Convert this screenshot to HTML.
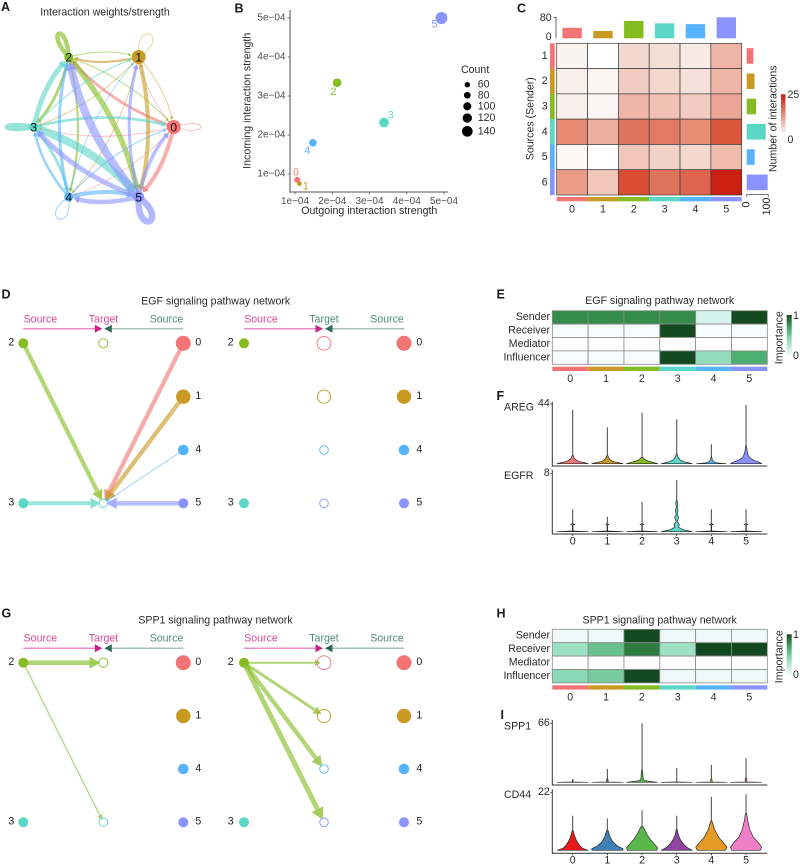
<!DOCTYPE html>
<html lang="en">
<head>
<meta charset="utf-8">
<title>Cell-cell communication figure</title>
<style>
html,body{margin:0;padding:0;background:#fff;}
svg{display:block;font-family:"Liberation Sans",Arial,sans-serif;filter:blur(0.3px);}
text{fill:#2a2a2a;font-size:10.6px;dominant-baseline:central;}
.plabel{font-size:12.5px;font-weight:bold;fill:#1a1a1a;dominant-baseline:auto;}
.mid{text-anchor:middle;}
.end{text-anchor:end;}
.mag{fill:#d8489e;}
.grn{fill:#4f8a78;}
</style>
</head>
<body>
<svg id="fig" width="800" height="865" viewBox="0 0 800 865">
<defs>
<linearGradient id="redGrad" x1="0" y1="1" x2="0" y2="0"><stop offset="0" stop-color="#ffffff"/><stop offset="0.5" stop-color="#e88d76"/><stop offset="1" stop-color="#cb1f0f"/></linearGradient>
<linearGradient id="grnGrad" x1="0" y1="1" x2="0" y2="0"><stop offset="0" stop-color="#f7fcfd"/><stop offset="0.4" stop-color="#92dcbc"/><stop offset="0.7" stop-color="#45a566"/><stop offset="1" stop-color="#14491f"/></linearGradient>
</defs>

<text class="plabel" x="1" y="11">A</text>
<text class="plabel" x="234.5" y="12.5">B</text>
<text class="plabel" x="517" y="12.5">C</text>
<text class="plabel" x="1.5" y="298.5">D</text>
<text class="plabel" x="496.5" y="298.5">E</text>
<text class="plabel" x="496.5" y="400">F</text>
<text class="plabel" x="1.5" y="617.5">G</text>
<text class="plabel" x="496.5" y="617.5">H</text>
<text class="plabel" x="500.5" y="719">I</text>

<text class="mid" x="105" y="12.3">Interaction weights/strength</text>

<text class="mid" x="369.3" y="211">Outgoing interaction strength</text>
<text class="mid" transform="translate(247.3 100.8) rotate(-90)">Incoming interaction strength</text>
<text x="461" y="70">Count</text>

<text class="mid" transform="translate(530.7 118.7) rotate(-90)">Sources (Sender)</text>
<text class="mid" transform="translate(773.3 118.7) rotate(-90)">Number of interactions</text>
<rect x="781" y="94.3" width="4.5" height="40.7" fill="url(#redGrad)"/>
<text x="787.5" y="95">25</text>
<text x="787.5" y="140">0</text>

<text class="mid" x="215.7" y="301.7">EGF signaling pathway network</text>
<text class="mid" x="215.5" y="620.7">SPP1 signaling pathway network</text>

<text class="mid mag" x="40.4" y="319.7">Source</text>
<text class="mid mag" x="103.5" y="319.7">Target</text>
<text class="mid grn" x="166.5" y="319.7">Source</text>
<text class="mid mag" x="261" y="319.7">Source</text>
<text class="mid grn" x="324" y="319.7">Target</text>
<text class="mid grn" x="387" y="319.7">Source</text>
<text class="mid mag" x="40.4" y="638.7">Source</text>
<text class="mid mag" x="103.5" y="638.7">Target</text>
<text class="mid grn" x="166.5" y="638.7">Source</text>
<text class="mid mag" x="261" y="638.7">Source</text>
<text class="mid grn" x="324" y="638.7">Target</text>
<text class="mid grn" x="387" y="638.7">Source</text>

<text class="mid" x="659.7" y="301">EGF signaling pathway network</text>
<text class="mid" transform="translate(779.3 337.7) rotate(-90)">Importance</text>
<rect x="786.7" y="315" width="5" height="41.7" fill="url(#grnGrad)"/>
<text x="793" y="316">1</text>
<text x="793" y="356">0</text>

<text class="mid" x="659.7" y="620.3">SPP1 signaling pathway network</text>
<text class="mid" transform="translate(779.3 656.7) rotate(-90)">Importance</text>
<rect x="786.7" y="634.3" width="5" height="41.4" fill="url(#grnGrad)"/>
<text x="793" y="635">1</text>
<text x="793" y="675">0</text>

<text x="504" y="407.3">AREG</text>
<text x="504" y="476">EGFR</text>
<text x="504" y="726.7">SPP1</text>
<text x="504" y="795">CD44</text>
</svg>

<script>
/* ---------- shared data ---------- */
const clusters = ['0','1','2','3','4','5'];
const palette = ['#f37474','#c99a22','#84bc22','#5cd6c6','#56b4ff','#8a93ff'];
const violinPaletteB = ['#e41a1c','#3f80b8','#5ab84a','#8e44a0','#e59a26','#f07fc8'];

/* Panel A: edge weights, row = sender, col = receiver */
const chordWeights = [
  [0.6,0.6,2.8,0.7,0.7,4.0],
  [0.8,0.6,2.2,0.8,0.8,4.0],
  [0.9,0.9,4.5,3.0,2.0,5.5],
  [2.8,1.1,5.0,4.8,3.0,8.0],
  [1.1,0.7,3.0,2.5,0.9,4.0],
  [3.5,3.0,8.0,5.0,4.5,6.5]
];
const chordNodeSizes = [7,7,4.5,4.5,4.5,5.5];

/* Panel B */
const outgoing = [1.06e-4,1.12e-4,2.13e-4,3.39e-4,1.48e-4,4.93e-4];
const incoming = [0.85e-4,0.75e-4,3.34e-4,2.32e-4,1.80e-4,5.00e-4];
const counts = [70,50,105,120,90,150];
const scatterTicks = [1e-4,2e-4,3e-4,4e-4,5e-4];
const scatterTickLabels = ['1e\u221204','2e\u221204','3e\u221204','4e\u221204','5e\u221204'];
const countLegend = [60,80,100,120,140];

/* Panel C */
const heatValues = [
  [1,0,4,3.5,2,7],
  [1.5,0.8,5,4,3,7],
  [1.5,0.8,7,6,5,9],
  [13,7.5,17,16,12.5,20],
  [0.6,0,5.5,4.5,4,6.5],
  [10.5,5.5,21,17,18.5,25]
];
const heatRowLabels = ['1','2','3','4','5','6'];
const topBarValues = [40,28,66,57,54,80];
const rightBarValues = [31,36,43,88,37,97];

/* Panels D and G: hierarchy plots */
const leftColumn = [2,null,null,3];
const rightColumn = [0,1,4,5];
const sourceSizes = [7.5,7.2,5,5,5.3,5];
const targetSizes = [7.3,7,5,4.7,4.7,4.7];
const egfSources = [2,3,0,1,4,5];
const egfTargets = [3,3,3,3,3,3];
const egfWeights = [4.3,4,4.3,4.3,0.9,4.3];
const egfMiddleA = [2,null,null,3];
const spp1SourcesA = [2,2];
const spp1TargetsA = [2,3];
const spp1WeightsA = [4.5,1.3];
const spp1SourcesB = [2,2,2,2];
const spp1TargetsB = [0,1,4,5];
const spp1WeightsB = [2,3,4.3,5];
const middleB = [0,1,4,5];

/* Panels E and H: null = no role */
const roleLabels = ['Sender','Receiver','Mediator','Influencer'];
const egfRoles = [
  [0.8,0.8,0.8,0.8,0.12,1],
  [0,0,0,1,0,0],
  [null,null,null,null,null,null],
  [0,0,0,1,0.4,0.65]
];
const spp1Roles = [
  [0.03,0.03,1,0.03,0.03,0.03],
  [0.35,0.55,0.85,0.35,1,1],
  [null,null,null,null,null,null],
  [0.42,0.5,1,0.03,0.03,0.03]
];

/* Panels F and I: violin tops, and density profiles as [expression, relative width] */
const aregMax = [39.6,26.8,37.6,32.7,14.3,43.4];
const aregProfiles = [
  [[0,1],[0.8,0.75],[1.5,0.45],[2.5,0.25],[4,0.1],[6,0.04]],
  [[0,1],[0.8,0.72],[1.5,0.42],[2.5,0.22],[4,0.1],[6,0.03]],
  [[0,1],[1,0.7],[2,0.38],[3,0.18],[4.5,0.06]],
  [[0,1],[0.8,0.7],[1.5,0.45],[3,0.2],[5,0.08],[7,0.03]],
  [[0,0.95],[0.5,0.4],[1.5,0.15],[3,0.05],[5,0.02]],
  [[0,1],[1,0.85],[2.5,0.5],[4,0.28],[6,0.15],[9,0.07],[13,0.03]]
];
const egfrMax = [3.1,2.07,4.1,7.1,3.1,3.1];
const egfrProfiles = [
  [[0,1],[0.1,0.02],[0.9,0.01],[1,0.13],[1.1,0.01]],
  [[0,1],[0.1,0.02],[0.9,0.01],[1,0.1],[1.1,0.01]],
  [[0,1],[0.1,0.02],[0.9,0.01],[1,0.13],[1.1,0.01]],
  [[0,1],[0.25,0.45],[0.6,0.12],[1,0.17],[1.4,0.04],[2,0.13],[2.35,0.03],[3,0.09],[3.35,0.03],[4,0.06],[4.3,0.01]],
  [[0,1],[0.1,0.02],[0.9,0.01],[1,0.13],[1.1,0.01]],
  [[0,1],[0.1,0.02],[0.9,0.01],[1,0.13],[1.1,0.01]]
];
const spp1Max = [3.4,15,66,16,19.4,27];
const spp1Profiles = [
  [[0,1],[0.4,0.02],[3,0.01]],
  [[0,1],[0.4,0.04],[2,0.05],[4,0.02]],
  [[0,1],[1,0.5],[2,0.15],[4,0.07],[10,0.05],[14,0.02]],
  [[0,1],[0.4,0.01]],
  [[0,1],[0.4,0.04],[2.5,0.05],[4,0.01]],
  [[0,1],[0.4,0.04],[3,0.06],[5,0.02]]
];
const cd44Max = [13.2,12.2,15.3,13.2,20.4,21.4];
const cd44Profiles = [
  [[0,1],[0.8,0.62],[2,0.42],[4,0.22],[6,0.1],[7.5,0.03]],
  [[0,1],[0.6,1],[1.5,0.68],[3,0.38],[5,0.18],[7.5,0.05]],
  [[0,0.95],[1,1],[2,0.85],[4,0.55],[6,0.32],[9,0.07]],
  [[0,1],[1,0.68],[2,0.48],[4,0.24],[6,0.1],[8,0.03]],
  [[0,0.9],[1.2,1],[3,0.75],[5,0.46],[8,0.2],[11,0.05]],
  [[0,0.92],[1.2,1],[3,0.78],[5,0.46],[8,0.24],[11,0.12],[14,0.04]]
];

/* ---------- helpers ---------- */
const svg = document.getElementById('fig');
const NS = 'http://www.w3.org/2000/svg';
function add(tag, attrs, name, content) {
  const e = document.createElementNS(NS, tag);
  for (const k in attrs) e.setAttribute(k, attrs[k]);
  
  
  if (content !== undefined) e.textContent = content;
  svg.appendChild(e);
  return e;
}
function arrowHead(tipX, tipY, ux, uy, len, hw, fill, opacity, name) {
  const bx = tipX - ux * len, by = tipY - uy * len;
  const pts = [[tipX, tipY], [bx - uy * hw, by + ux * hw], [bx + uy * hw, by - ux * hw]];
  add('polygon', {points: pts.map(p => p[0].toFixed(1) + ',' + p[1].toFixed(1)).join(' '), fill: fill, opacity: opacity}, name);
}
function lerpColor(a, b, t) {
  const p = s => [1, 3, 5].map(i => parseInt(s.substr(i, 2), 16));
  const A = p(a), B = p(b);
  return 'rgb(' + A.map((v, i) => Math.round(v + (B[i] - v) * t)).join(',') + ')';
}
function rampColor(stops, v) {
  for (let i = 1; i < stops.length; i++) {
    if (v <= stops[i][0]) return lerpColor(stops[i - 1][1], stops[i][1], (v - stops[i - 1][0]) / (stops[i][0] - stops[i - 1][0]));
  }
  return stops[stops.length - 1][1];
}

/* ---------- Panel A ---------- */
(function () {
  const cx = 103.7, cy = 127, rx = 70, ry = 80.8;
  const nodeX = i => cx + rx * Math.cos(i * Math.PI / 3);
  const nodeY = i => cy - ry * Math.sin(i * Math.PI / 3);
  const loopAngle = [0, -64, -113, 180, 115, 66];
  const loopSpread = [18, 32, 20, 10, 32, 28];
  const loopReach = [38, 40, 36, 36, 38, 40];
  const bend = 0.125;
  chordWeights.forEach((row, i) => row.forEach((w, j) => {
    const x1 = nodeX(i), y1 = nodeY(i), x2 = nodeX(j), y2 = nodeY(j);
    if (i === j) {
      const a = loopAngle[i] * Math.PI / 180, s = loopSpread[i] * Math.PI / 180, L = loopReach[i];
      const d = 'M' + x1 + ' ' + y1 + ' C' + (x1 + L * Math.cos(a - s)) + ' ' + (y1 + L * Math.sin(a - s)) + ' ' + (x1 + L * Math.cos(a + s)) + ' ' + (y1 + L * Math.sin(a + s)) + ' ' + x1 + ' ' + y1;
      add('path', {d: d, fill: 'none', stroke: palette[i], 'stroke-width': Math.max(w, 0.6), opacity: 0.65}, 'self-loop-' + i);
      return;
    }
    const dx = x2 - x1, dy = y2 - y1;
    const mx = (x1 + x2) / 2 + dy * bend, my = (y1 + y2) / 2 - dx * bend;
    const r = chordNodeSizes[j];
    let ux = x2 - mx, uy = y2 - my;
    const ul = Math.hypot(ux, uy); ux /= ul; uy /= ul;
    const len = 2.5 + w * 0.7, hw = 1.3 + w * 0.55;
    const tipX = x2 - ux * (r + 0.5), tipY = y2 - uy * (r + 0.5);
    const endX = tipX - ux * len * 0.8, endY = tipY - uy * len * 0.8;
    add('path', {d: 'M' + x1 + ' ' + y1 + ' Q' + mx + ' ' + my + ' ' + endX + ' ' + endY, fill: 'none', stroke: palette[i], 'stroke-width': w, opacity: 0.6}, 'edge-' + i + '-to-' + j);
    arrowHead(tipX, tipY, ux, uy, len, hw, palette[i], 0.8, 'edge-arrow-' + i + '-to-' + j);
  }));
  clusters.forEach((c, i) => {
    add('circle', {cx: nodeX(i), cy: nodeY(i), r: chordNodeSizes[i], fill: palette[i]}, 'node-' + c);
    add('text', {x: nodeX(i), y: nodeY(i) + 0.3, class: 'mid', style: 'font-size:12px;fill:#111'}, 'node-label-' + c, c);
  });
})();

/* ---------- Panel B ---------- */
(function () {
  const sx = v => 295 + (v - 1e-4) / 1e-4 * 37.25;
  const sy = v => 174 - (v - 1e-4) / 1e-4 * 39;
  const sr = c => 2.3 + (c - 50) * 0.037;
  add('line', {x1: 290, y1: 10, x2: 290, y2: 192.7, stroke: '#777', 'stroke-width': 1.3}, 'y-axis-line');
  add('line', {x1: 289.4, y1: 192, x2: 448, y2: 192, stroke: '#777', 'stroke-width': 1.3}, 'x-axis-line');
  scatterTicks.forEach((t, i) => {
    add('line', {x1: sx(t), y1: 192, x2: sx(t), y2: 194.5, stroke: '#555', 'stroke-width': 0.8}, 'x-tick');
    add('line', {x1: 287.5, y1: sy(t), x2: 290, y2: sy(t), stroke: '#555', 'stroke-width': 0.8}, 'y-tick');
    add('text', {x: sx(t), y: 201.7, class: 'mid', style: 'font-size:10px;fill:#4d4d4d'}, 'x-tick-label', scatterTickLabels[i]);
    add('text', {x: 285.5, y: sy(t), class: 'end', style: 'font-size:10px;fill:#4d4d4d'}, 'y-tick-label', scatterTickLabels[i]);
  });
  const labelOffset = [[-1.3, -7.3], [6.4, 2.7], [-3.6, 9.3], [6.7, -7], [-5.7, 8], [-7, 6.3]];
  clusters.forEach((c, i) => {
    add('circle', {cx: sx(outgoing[i]), cy: sy(incoming[i]), r: sr(counts[i]), fill: palette[i]}, 'point-' + c);
    add('text', {x: sx(outgoing[i]) + labelOffset[i][0], y: sy(incoming[i]) + labelOffset[i][1], class: 'mid', style: 'fill:' + palette[i]}, 'point-label-' + c, c);
  });
  const legendY = [84.7, 95.3, 106.3, 118, 131.3];
  countLegend.forEach((c, i) => {
    add('circle', {cx: 467.3, cy: legendY[i], r: 2.7 + i * 0.66, fill: '#000'}, 'legend-dot-' + c);
    add('text', {x: 477.7, y: legendY[i]}, 'legend-label-' + c, String(c));
  });
})();

/* ---------- Panel C ---------- */
(function () {
  const x0 = 556.7, y0 = 43.3, cw = 185 / 6, ch = 151.7 / 6;
  const colX = i => x0 + i * cw;
  const rowY = i => y0 + i * ch;
  const heatRamp = [[0, '#ffffff'], [0.04, '#faf4f0'], [0.16, '#f3d8cf'], [0.28, '#eeb5a6'], [0.5, '#e88d76'], [0.68, '#e0735c'], [0.84, '#db4d33'], [1, '#cb1f0f']];
  const fill = v => rampColor(heatRamp, v / 25);
  heatValues.forEach((row, r) => row.forEach((v, c) => {
    add('rect', {x: colX(c), y: rowY(r), width: cw, height: ch, fill: fill(v), stroke: '#3a3a3a', 'stroke-width': 0.7}, 'heat-cell-' + r + '-' + c);
  }));
  const topY = v => 38.3 - v * 21 / 80;
  topBarValues.forEach((v, i) => {
    add('rect', {x: colX(i) + cw / 2 - 9.7, y: topY(v), width: 19.4, height: 38.3 - topY(v), fill: palette[i]}, 'top-bar-' + i);
    add('rect', {x: colX(i), y: 197, width: cw, height: 4.3, fill: palette[i]}, 'bottom-color-strip-' + i);
    add('text', {x: colX(i) + cw / 2, y: 209.3, class: 'mid'}, 'column-label-' + i, clusters[i]);
  });
  add('path', {d: 'M553.7 ' + topY(80) + 'H556V' + topY(0), fill: 'none', stroke: '#444', 'stroke-width': 0.8}, 'top-bar-axis');
  add('text', {x: 551.7, y: 18, class: 'end'}, 'top-axis-max', '80');
  add('text', {x: 551.7, y: 37, class: 'end'}, 'top-axis-min', '0');
  const barX = v => 746.7 + v * 21.6 / 100;
  rightBarValues.forEach((v, i) => {
    add('rect', {x: 746.7, y: rowY(i) + ch / 2 - 7.8, width: barX(v) - 746.7, height: 15.6, fill: palette[i]}, 'right-bar-' + i);
    add('rect', {x: 550, y: rowY(i), width: 4.7, height: ch, fill: palette[i]}, 'left-color-strip-' + i);
    add('text', {x: 544.7, y: rowY(i) + ch / 2, class: 'mid'}, 'row-label-' + i, heatRowLabels[i]);
  });
  add('path', {d: 'M' + barX(0) + ' 197V194.5H' + barX(100) + 'V197', fill: 'none', stroke: '#777', 'stroke-width': 0.9}, 'right-bar-axis');
  add('text', {transform: 'translate(746.5 204.5) rotate(-90)', class: 'mid'}, 'right-axis-min', '0');
  add('text', {transform: 'translate(767 206.5) rotate(-90)', class: 'mid'}, 'right-axis-max', '100');
})();

/* ---------- Panels D and G ---------- */
function headerArrows(xs, y) {
  add('line', {x1: xs[0], y1: y, x2: xs[1] - 7, y2: y, stroke: '#e566b4', 'stroke-width': 1.1}, 'source-arrow-line');
  add('polygon', {points: (xs[1] - 1) + ',' + y + ' ' + (xs[1] - 8.5) + ',' + (y - 4) + ' ' + (xs[1] - 8.5) + ',' + (y + 4), fill: '#c9248a'}, 'source-arrowhead');
  add('line', {x1: xs[2], y1: y, x2: xs[1] + 8, y2: y, stroke: '#88aca0', 'stroke-width': 1.1}, 'target-arrow-line');
  add('polygon', {points: (xs[1] + 1) + ',' + y + ' ' + (xs[1] + 8.5) + ',' + (y - 4) + ' ' + (xs[1] + 8.5) + ',' + (y + 4), fill: '#2f6b5a'}, 'target-arrowhead');
}
function hierarchy(xs, rows, middle, sources, targets, weights, labelX) {
  headerArrows(xs, rows[0] - 14.5);
  const srcPos = c => {
    const l = leftColumn.indexOf(c);
    return l >= 0 ? [xs[0], rows[l]] : [xs[2], rows[rightColumn.indexOf(c)]];
  };
  const tgtPos = c => [xs[1], rows[middle.indexOf(c)]];
  sources.forEach((s, i) => {
    const a = srcPos(s), b = tgtPos(targets[i]), w = weights[i];
    const d = Math.hypot(b[0] - a[0], b[1] - a[1]);
    const ux = (b[0] - a[0]) / d, uy = (b[1] - a[1]) / d;
    const tipX = b[0] - ux * 3, tipY = b[1] - uy * 3;
    const len = 2.2 + 1.9 * w, hw = 1 + 1.1 * w;
    add('line', {x1: a[0], y1: a[1], x2: tipX - ux * len, y2: tipY - uy * len, stroke: palette[s], 'stroke-width': w, opacity: 0.62}, 'flow-' + s + '-to-' + targets[i]);
    arrowHead(tipX, tipY, ux, uy, len, hw, palette[s], 0.75, 'flow-arrow-' + s + '-to-' + targets[i]);
  });
  leftColumn.forEach((c, r) => {
    if (c === null) return;
    add('circle', {cx: xs[0], cy: rows[r], r: sourceSizes[c], fill: palette[c]}, 'left-source-node-' + c);
    add('text', {x: labelX[0], y: rows[r] - 0.6, class: 'mid', style: 'fill:#222'}, 'left-source-label-' + c, clusters[c]);
  });
  rightColumn.forEach((c, r) => {
    add('circle', {cx: xs[2], cy: rows[r], r: sourceSizes[c], fill: palette[c]}, 'right-source-node-' + c);
    add('text', {x: labelX[1], y: rows[r] - 0.6, class: 'mid', style: 'fill:#222'}, 'right-source-label-' + c, clusters[c]);
  });
  middle.forEach((c, r) => {
    if (c === null) return;
    add('circle', {cx: xs[1], cy: rows[r], r: targetSizes[c] - 0.4, fill: 'none', stroke: palette[c], 'stroke-width': 0.9}, 'target-node-' + c);
  });
}
const xsA = [23.3, 103.3, 183.3], xsB = [244, 324, 404];
const rowsD = [343.3, 396.7, 450, 503.3], rowsG = [662.7, 716, 769, 822.3];
hierarchy(xsA, rowsD, egfMiddleA, egfSources, egfTargets, egfWeights, [11.3, 198.3]);
hierarchy(xsB, rowsD, middleB, [], [], [], [230.7, 419.3]);
hierarchy(xsA, rowsG, egfMiddleA, spp1SourcesA, spp1TargetsA, spp1WeightsA, [11.3, 198.3]);
hierarchy(xsB, rowsG, middleB, spp1SourcesB, spp1TargetsB, spp1WeightsB, [230.7, 419.3]);

/* ---------- Panels E and H ---------- */
const roleRamp = [[0, '#f7fcfd'], [0.12, '#d5f2ea'], [0.4, '#92dcbc'], [0.65, '#4cae70'], [0.8, '#348c49'], [1, '#14491f']];
function roleColor(v) {
  if (v === null) return '#ffffff';
  return rampColor(roleRamp, v);
}
function roleHeatmap(values, top, prefix) {
  const x0 = 552.3, cw = 215 / 6, ch = 13.4;
  values.forEach((row, r) => {
    add('text', {x: 550, y: top + r * ch + ch / 2 - 0.3, class: 'end'}, prefix + '-role-' + roleLabels[r].toLowerCase(), roleLabels[r]);
    row.forEach((v, c) => {
      add('rect', {x: x0 + c * cw, y: top + r * ch, width: cw, height: ch, fill: roleColor(v), stroke: '#8a8a8a', 'stroke-width': 0.8}, prefix + '-cell-' + r + '-' + c);
    });
  });
  clusters.forEach((c, i) => {
    add('rect', {x: x0 + i * cw, y: top + 56, width: cw, height: 4.3, fill: palette[i]}, prefix + '-color-strip-' + c);
    add('text', {x: x0 + i * cw + cw / 2, y: top + 68.2, class: 'mid'}, prefix + '-column-label-' + c, c);
  });
}
roleHeatmap(egfRoles, 310.7, 'egf');
roleHeatmap(spp1Roles, 629.3, 'spp1');

/* ---------- Panels F and I ---------- */
function violins(maxes, profiles, colors, axisTop, axisBottom, baseline, tickValue, tickPx, prefix) {
  const xAxisLeft = 552.3, xAxisRight = 767.3;
  const y = v => baseline - v * (baseline - tickPx) / tickValue;
  const x = i => 572.7 + i * 34.67;
  maxes.forEach((m, i) => {
    add('line', {x1: x(i), y1: y(m), x2: x(i), y2: baseline, stroke: '#2a2a2a', 'stroke-width': 1.1, opacity: 0.8}, prefix + '-spike-' + i);
    const p = profiles[i];
    const right = p.map(q => (x(i) + q[1] * 15.6).toFixed(2) + ' ' + y(q[0]).toFixed(2));
    const left = p.slice().reverse().map(q => (x(i) - q[1] * 15.6).toFixed(2) + ' ' + y(q[0]).toFixed(2));
    add('path', {d: 'M' + right.concat(left).join(' L') + ' Z', fill: colors[i], stroke: '#2a2a2a', 'stroke-width': 0.7, 'stroke-linejoin': 'round'}, prefix + '-violin-' + i);
  });
  add('line', {x1: xAxisLeft, y1: axisTop, x2: xAxisLeft, y2: axisBottom + 0.5, stroke: '#333', 'stroke-width': 1}, prefix + '-y-axis');
  add('line', {x1: xAxisLeft, y1: axisBottom, x2: xAxisRight, y2: axisBottom, stroke: '#333', 'stroke-width': 1}, prefix + '-x-axis');
  add('line', {x1: xAxisLeft - 2, y1: tickPx, x2: xAxisLeft, y2: tickPx, stroke: '#333', 'stroke-width': 0.8}, prefix + '-y-tick');
  add('text', {x: xAxisLeft - 2.5, y: tickPx - 0.5, class: 'end'}, prefix + '-y-tick-label', String(tickValue));
}
violins(aregMax, aregProfiles, palette, 401.7, 466, 463.7, 44, 404, 'areg');
violins(egfrMax, egfrProfiles, palette, 470, 534, 531.7, 8, 473.7, 'egfr');
violins(spp1Max, spp1Profiles, violinPaletteB, 720, 785, 782.3, 66, 723.3, 'spp1');
violins(cd44Max, cd44Profiles, violinPaletteB, 789.3, 853.3, 850.3, 22, 792.7, 'cd44');
clusters.forEach((c, i) => {
  const x = 572.7 + i * 34.67;
  add('line', {x1: x, y1: 534, x2: x, y2: 536, stroke: '#333', 'stroke-width': 0.8}, 'egfr-x-tick-' + c);
  add('text', {x: x, y: 541.7, class: 'mid'}, 'egfr-x-label-' + c, c);
  add('line', {x1: x, y1: 853.3, x2: x, y2: 855.3, stroke: '#333', 'stroke-width': 0.8}, 'cd44-x-tick-' + c);
  add('text', {x: x, y: 860.7, class: 'mid'}, 'cd44-x-label-' + c, c);
});
</script>
</body>
</html>
